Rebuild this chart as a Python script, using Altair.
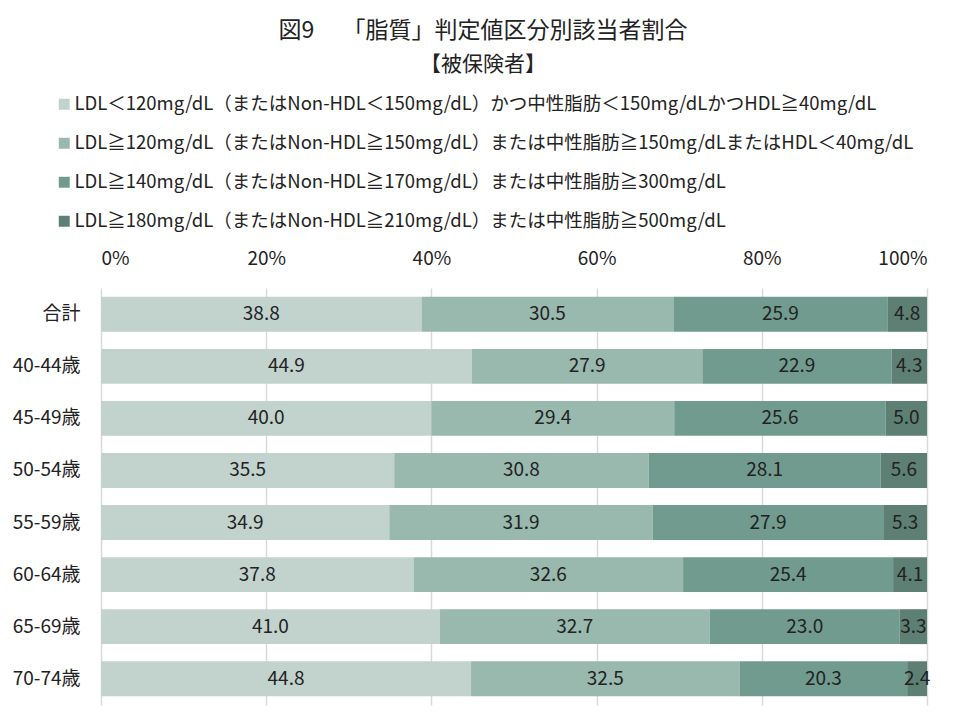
import altair as alt
import pandas as pd

categories = ["合計", "40-44歳", "45-49歳", "50-54歳", "55-59歳", "60-64歳", "65-69歳", "70-74歳"]
series_names = [
    "LDL＜120mg/dL（またはNon-HDL＜150mg/dL）かつ中性脂肪＜150mg/dLかつHDL≧40mg/dL",
    "LDL≧120mg/dL（またはNon-HDL≧150mg/dL）または中性脂肪≧150mg/dLまたはHDL＜40mg/dL",
    "LDL≧140mg/dL（またはNon-HDL≧170mg/dL）または中性脂肪≧300mg/dL",
    "LDL≧180mg/dL（またはNon-HDL≧210mg/dL）または中性脂肪≧500mg/dL",
]
s1 = [38.8, 44.9, 40.0, 35.5, 34.9, 37.8, 41.0, 44.8]
s2 = [30.5, 27.9, 29.4, 30.8, 31.9, 32.6, 32.7, 32.5]
s3 = [25.9, 22.9, 25.6, 28.1, 27.9, 25.4, 23.0, 20.3]
s4 = [4.8, 4.3, 5.0, 5.6, 5.3, 4.1, 3.3, 2.4]
colors = ["#c2d3ce", "#99b8ae", "#729b8f", "#5d7f74"]

rows = []
for si, (name, vals) in enumerate(zip(series_names, [s1, s2, s3, s4])):
    for c, v in zip(categories, vals):
        rows.append({"category": c, "series": name, "order": si, "value": v})
df = pd.DataFrame(rows)

FONT = "Noto Sans CJK JP"

base = alt.Chart(df).transform_stack(
    stack="value", groupby=["category"], sort=[alt.SortField("order", order="ascending")],
    as_=["x0", "x1"], offset="normalize"
).transform_calculate(mid="(datum.x0 + datum.x1) / 2")

y_enc = alt.Y("category:N", sort=categories, title=None,
              scale=alt.Scale(paddingInner=0.33, paddingOuter=0.17),
              axis=alt.Axis(ticks=False, domain=False, labelFontSize=19, labelColor="#222",
                            labelPadding=21, labelFont=FONT))

bars = base.mark_bar().encode(
    x=alt.X("x0:Q", scale=alt.Scale(domain=[0, 1]), title=None,
            axis=alt.Axis(orient="top", format=".0%", values=[0, 0.2, 0.4, 0.6, 0.8, 1.0],
                          labelFontSize=19, labelColor="#222", labelFont=FONT, ticks=False,
                          domain=False, labelPadding=20, gridColor="#d9d9d9", gridWidth=1.5)),
    x2="x1:Q",
    y=y_enc,
    color=alt.Color("series:N", sort=series_names,
                    scale=alt.Scale(domain=series_names, range=colors),
                    legend=alt.Legend(title=None, orient="none", legendX=-46, legendY=-193,
                                      direction="vertical", symbolType="square", symbolSize=120,
                                      symbolStrokeWidth=0, labelFontSize=18.5, labelFont=FONT,
                                      labelColor="#222", labelLimit=1000, rowPadding=20,
                                      labelOffset=1)),
)

labels = base.mark_text(fontSize=19, font=FONT, color="#222").encode(
    x=alt.X("mid:Q"),
    y=alt.Y("category:N", sort=categories),
    text=alt.Text("value:Q", format=".1f"),
)

chart = alt.layer(bars, labels).properties(
    width=826, height=417,
    title=alt.TitleParams(text="図9　 「脂質」判定値区分別該当者割合", subtitle="【被保険者】",
                          anchor="middle", dx=-31, fontSize=23, subtitleFontSize=21,
                          font=FONT, subtitleFont=FONT, fontWeight="normal",
                          color="#222", subtitleColor="#222", subtitlePadding=11, offset=20),
    autosize=alt.AutoSizeParams(type="none"),
    padding={"left": 93, "top": 280, "right": 25, "bottom": 7},
).configure_view(stroke=None)

chart.save("out.html", embed_options={"renderer": "svg", "actions": False})
